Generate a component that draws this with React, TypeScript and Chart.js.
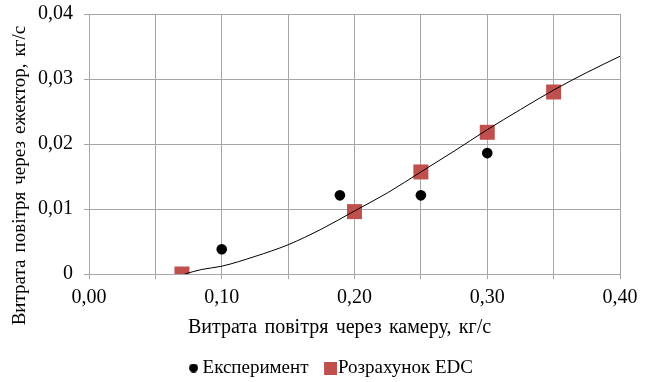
import React, { useEffect, useRef } from "react";
import { Chart, registerables } from "chart.js";
Chart.register(...registerables);

const expX = [0.10, 0.189, 0.25, 0.30];
const expY = [0.0038, 0.0121, 0.0121, 0.0186];
const edcX = [0.07, 0.20, 0.25, 0.30, 0.35];
const edcY = [0.0, 0.0096, 0.0157, 0.0218, 0.0280];
const trendX = [0.072, 0.085, 0.10, 0.125, 0.15, 0.175, 0.20, 0.225, 0.25, 0.275, 0.30, 0.325, 0.35, 0.375, 0.40];
const trendY = [0.0, 0.0007, 0.0012, 0.0027, 0.0045, 0.0069, 0.0097, 0.0125, 0.0157, 0.0189, 0.0222, 0.0253, 0.0283, 0.0310, 0.0335];
const seriesNames = ["Експеримент", "Розрахунок EDC"];
const xTitle = "Витрата повітря через камеру, кг/с";
const yTitle = "Витрата повітря через ежектор, кг/с";

const FONT = "'Liberation Serif', 'Times New Roman', serif";
const TICK_FS = 20;
const TITLE_FS = 20;
const YTITLE_FS = 19;
const LEGEND_FS = 19;
const GRID = "#A6A6A6";

// legend icon: shape drawn inside a transparent canvas, offset to the right of its centre
function makeIcon(kind: "circle" | "square", shift: number): HTMLCanvasElement {
  const c = document.createElement("canvas");
  const s = kind === "circle" ? 9 : 13;
  const w = 2 * (shift + s / 2);
  c.width = Math.ceil(w);
  c.height = s;
  const ctx = c.getContext("2d")!;
  const cx = w / 2 + shift;
  if (kind === "circle") {
    ctx.fillStyle = "#000000";
    ctx.beginPath();
    ctx.arc(cx, s / 2, s / 2, 0, Math.PI * 2);
    ctx.fill();
  } else {
    ctx.fillStyle = "#C0504D";
    ctx.fillRect(cx - s / 2, 0, s, s);
  }
  return c;
}

export default function App() {
  const ref = useRef<HTMLCanvasElement | null>(null);
  useEffect(() => {
    document.body.style.margin = "0";
    let chart: Chart | null = null;
    let cancelled = false;
    const build = () => {
      if (cancelled || !ref.current) return;
      const icons = [makeIcon("circle", 10), makeIcon("square", 11.5)];
      chart = new Chart(ref.current, {
        type: "scatter",
        data: {
          datasets: [
            {
              label: seriesNames[0],
              data: expX.map((x, i) => ({ x, y: expY[i] })),
              pointStyle: "circle",
              pointRadius: 5.3,
              backgroundColor: "#000000",
              borderColor: "#000000",
              borderWidth: 0,
              order: 1,
            },
            {
              label: seriesNames[1],
              data: edcX.map((x, i) => ({ x, y: edcY[i] })),
              pointStyle: "rect",
              pointRadius: 10.6,
              backgroundColor: "#C0504D",
              borderColor: "#C0504D",
              borderWidth: 0,
              order: 2,
            },
            {
              type: "line",
              label: "trend",
              data: trendX.map((x, i) => ({ x, y: trendY[i] })),
              showLine: true,
              borderColor: "#000000",
              borderWidth: 1,
              pointRadius: 0,
              cubicInterpolationMode: "monotone",
              fill: false,
              order: 0,
            } as any,
          ],
        },
        options: {
          animation: false,
          responsive: false,
          maintainAspectRatio: false,
          layout: { padding: { left: 27, right: 31, top: 0, bottom: -5.5 } },
          plugins: {
            tooltip: { enabled: false },
            legend: {
              position: "bottom",
              labels: {
                usePointStyle: true,
                font: { family: FONT, size: LEGEND_FS },
                color: "#000000",
                padding: 1,
                boxWidth: LEGEND_FS,
                boxHeight: LEGEND_FS,
                generateLabels: () =>
                  seriesNames.map((name, i) => ({
                    text: name,
                    datasetIndex: i,
                    pointStyle: icons[i],
                    fillStyle: i === 0 ? "#000" : "#C0504D",
                    strokeStyle: "transparent",
                    lineWidth: 0,
                    hidden: false,
                    fontColor: "#000000",
                  })),
              },
            },
          },
          scales: {
            x: {
              type: "linear",
              min: 0,
              max: 0.4,
              afterFit: (s: any) => {
                s.height += 40.5;
              },
              ticks: {
                stepSize: 0.05,
                autoSkip: false,
                maxRotation: 0,
                color: "#000000",
                font: { family: FONT, size: TICK_FS },
                padding: 7,
                callback: (v: any) => {
                  const n = Math.round(Number(v) * 100);
                  return n % 10 === 0 ? (n / 100).toFixed(2).replace(".", ",") : "";
                },
              },
              grid: { color: GRID, tickLength: 5, lineWidth: 1 },
              border: { color: GRID },
              title: { display: false },
            },
            y: {
              type: "linear",
              min: 0,
              max: 0.04,
              afterFit: (s: any) => {
                s.paddingTop = 14;
              },
              ticks: {
                stepSize: 0.01,
                color: "#000000",
                font: { family: FONT, size: TICK_FS },
                padding: 11,
                callback: (v: any) => {
                  const n = Math.round(Number(v) * 100);
                  return n === 0 ? "0" : (n / 100).toFixed(2).replace(".", ",");
                },
              },
              grid: { color: GRID, tickLength: 5, lineWidth: 1 },
              border: { color: GRID },
              title: { display: false },
            },
          },
        },
        plugins: [
          {
            id: "frameAndTitles",
            afterDraw(c: any) {
              const a = c.chartArea;
              const ctx = c.ctx as any;
              ctx.save();
              ctx.strokeStyle = GRID;
              ctx.lineWidth = 1;
              ctx.beginPath();
              ctx.moveTo(a.left, a.top + 0.5);
              ctx.lineTo(a.right, a.top + 0.5);
              ctx.stroke();

              ctx.fillStyle = "#000000";
              ctx.font = `${TITLE_FS}px ${FONT}`;
              try { ctx.wordSpacing = "2.3px"; } catch (e) {}
              ctx.textAlign = "center";
              ctx.textBaseline = "middle";
              const xs = c.scales.x;
              ctx.fillText(xTitle, (a.left + a.right) / 2 - 15, xs.top + 54);

              ctx.font = `${YTITLE_FS}px ${FONT}`;
              ctx.translate(20, (a.top + a.bottom) / 2 + 31.5);
              ctx.rotate(-Math.PI / 2);
              ctx.fillText(yTitle, 0, 0);
              ctx.restore();
            },
          },
        ],
      });
    };
    const fonts: any = (document as any).fonts;
    if (fonts && fonts.load) {
      Promise.all([
        fonts.load(`${TICK_FS}px 'Liberation Serif'`),
        fonts.load(`${LEGEND_FS}px 'Liberation Serif'`),
      ]).then(build, build);
    } else {
      build();
    }
    return () => {
      cancelled = true;
      if (chart) chart.destroy();
    };
  }, []);
  return (
    <div style={{ width: 651, height: 382, background: "#fff" }}>
      <canvas ref={ref} width={651} height={382} style={{ width: 651, height: 382, display: "block" }} />
    </div>
  );
}
